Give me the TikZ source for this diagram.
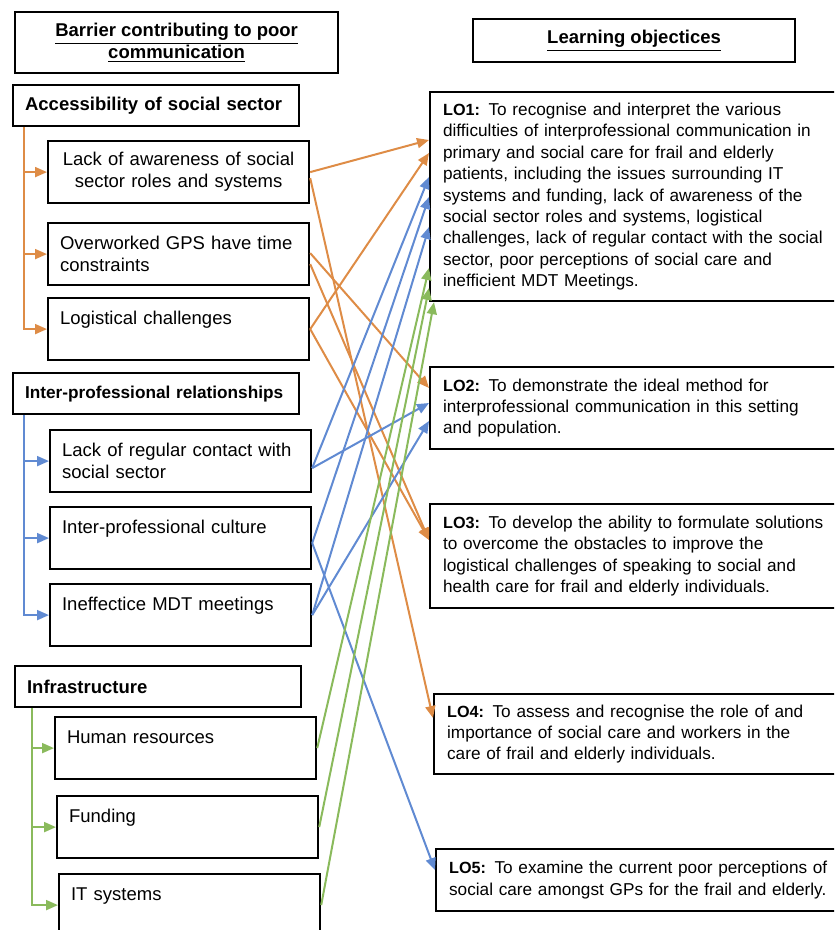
\documentclass[tikz,border=0pt]{standalone}
\usepackage{fontspec}
\setmainfont{Liberation Sans}
\usepackage{tikz}
\usetikzlibrary{arrows.meta,positioning}
\definecolor{accor}{RGB}{222,140,70}
\definecolor{relbl}{RGB}{96,138,210}
\definecolor{infgr}{RGB}{138,186,92}
\newcommand{\lotag}[1]{{\fontsize{8.1}{10.7}\selectfont\bfseries #1:}}

\begin{document}
\begin{tikzpicture}[x=0.5pt, y=-0.5pt,
  head/.style={draw, line width=1.1pt, anchor=north west, align=center,
               font=\fontsize{9.25}{11}\selectfont\bfseries},
  grp/.style={draw, line width=1.1pt, anchor=north west, minimum height=20.5pt,
              text width=131pt, inner xsep=6pt, align=left,
              font=\fontsize{9.25}{11}\selectfont\bfseries},
  bar/.style={draw, line width=1.1pt, anchor=north west, minimum height=31pt,
              text width=118.5pt, inner xsep=6pt, align=left,
              font=\fontsize{9.25}{11}\selectfont},
  oneline/.style={text depth=11pt},
  lo/.style={draw, line width=1.1pt, anchor=north west, text width=217pt,
             inner xsep=6.5pt, align=left, font=\fontsize{8.6}{10.7}\selectfont},
  arr/.style={-{Triangle[length=6pt,width=5pt]}, line width=1pt},
  ocon/.style={arr, color=accor},
  bcon/.style={arr, color=relbl},
  gcon/.style={arr, color=infgr}
]
\useasboundingbox (0,0) rectangle (834,930);
\clip (0,0) rectangle (834,930);

% headings
\node[head, minimum width=161.5pt, minimum height=30.5pt] (barr) at (14,11)
  {\underline{Barrier contributing to poor}\\\underline{communication}};
\node[head, minimum width=161pt, minimum height=21.5pt] (lobj) at (472,18)
  {\underline{Learning objectices}};

% barriers
\node[grp] (acc) at (12,84) {Accessibility of social sector};
\node[bar, align=center] (aware) at (47,140) {Lack of awareness of social\\sector roles and systems};
\node[bar] (over) at (47,222) {Overworked GPS have time\\constraints};
\node[bar, oneline] (logi) at (47,297) {Logistical challenges};

\node[grp, font=\fontsize{8.6}{11}\selectfont\bfseries] (ipr) at (12,372) {Inter-professional relationships};
\node[bar] (reg) at (49,429) {Lack of regular contact with\\social sector};
\node[bar, oneline] (cult) at (49,506) {Inter-professional culture};
\node[bar, oneline] (mdt) at (49,583) {Ineffectice MDT meetings};

\node[grp] (infra) at (14,665) {Infrastructure};
\node[bar, oneline] (human) at (54,716) {Human resources};
\node[bar, oneline] (fund) at (56,795) {Funding};
\node[bar, oneline] (itsys) at (58,873) {IT systems};

% learning objectives
\node[lo, minimum height=104.5pt] (lo1) at (429,91)
  {\lotag{LO1} To recognise and interpret the various\\
   difficulties of interprofessional communication in\\
   primary and social care for frail and elderly\\
   patients, including the issues surrounding IT\\
   systems and funding, lack of awareness of the\\
   social sector roles and systems, logistical\\
   challenges, lack of regular contact with the social\\
   sector, poor perceptions of social care and\\
   inefficient MDT Meetings.};
\node[lo, minimum height=41pt] (lo2) at (429,366)
  {\lotag{LO2} To demonstrate the ideal method for\\
   interprofessional communication in this setting\\
   and population.};
\node[lo, minimum height=52pt] (lo3) at (429,503)
  {\lotag{LO3} To develop the ability to formulate solutions\\
   to overcome the obstacles to improve the\\
   logistical challenges of speaking to social and\\
   health care for frail and elderly individuals.};
\node[lo, minimum height=40pt] (lo4) at (433,693)
  {\lotag{LO4} To assess and recognise the role of and\\
   importance of social care and workers in the\\
   care of frail and elderly individuals.};
\node[lo, minimum height=31pt] (lo5) at (435,848)
  {\lotag{LO5} To examine the current poor perceptions of\\
   social care amongst GPs for the frail and elderly.};

% group trunks
\draw[ocon] ([xshift=6pt]acc.south west) |- (aware.west);
\draw[ocon] ([xshift=6pt]acc.south west) |- (over.west);
\draw[ocon] ([xshift=6pt]acc.south west) |- (logi.west);
\draw[bcon] ([xshift=6pt]ipr.south west) |- (reg.west);
\draw[bcon] ([xshift=6pt]ipr.south west) |- (cult.west);
\draw[bcon] ([xshift=6pt]ipr.south west) |- (mdt.west);
\draw[gcon] ([xshift=9pt]infra.south west) |- (human.west);
\draw[gcon] ([xshift=9pt]infra.south west) |- (fund.west);
\draw[gcon] ([xshift=9pt]infra.south west) |- (itsys.west);

% barriers to objectives
\draw[ocon] (aware.east) -- (lo1.west |- 0,140);
\draw[ocon] ([yshift=-3pt]aware.east) -- (lo4.west |- 0,718);
\draw[ocon] ([yshift=0.5pt]over.east) -- (lo2.west |- 0,388);
\draw[ocon] ([yshift=-5pt]over.east) -- (lo3.west |- 0,540);
\draw[ocon] (logi.east) -- (lo1.west |- 0,153);
\draw[ocon] (logi.east) -- (lo3.west |- 0,540);

\draw[bcon] ([yshift=-3.5pt]reg.east) -- (lo1.west |- 0,177);
\draw[bcon] ([yshift=-3.5pt]reg.east) -- (lo2.west |- 0,403);
\draw[bcon] ([yshift=-2.5pt]cult.east) -- (lo1.west |- 0,197);
\draw[bcon] ([yshift=-2.5pt]cult.east) -- (lo5.west |- 0,870);
\draw[bcon] (mdt.east) -- (lo1.west |- 0,227);
\draw[bcon] (mdt.east) -- (lo2.west |- 0,421);

\draw[gcon] (human.east) -- (lo1.west |- 0,268);
\draw[gcon] (fund.east) -- (lo1.west |- 0,288);
\draw[gcon] (itsys.east) -- ([xshift=2.5pt]lo1.south west);
\end{tikzpicture}
\end{document}
